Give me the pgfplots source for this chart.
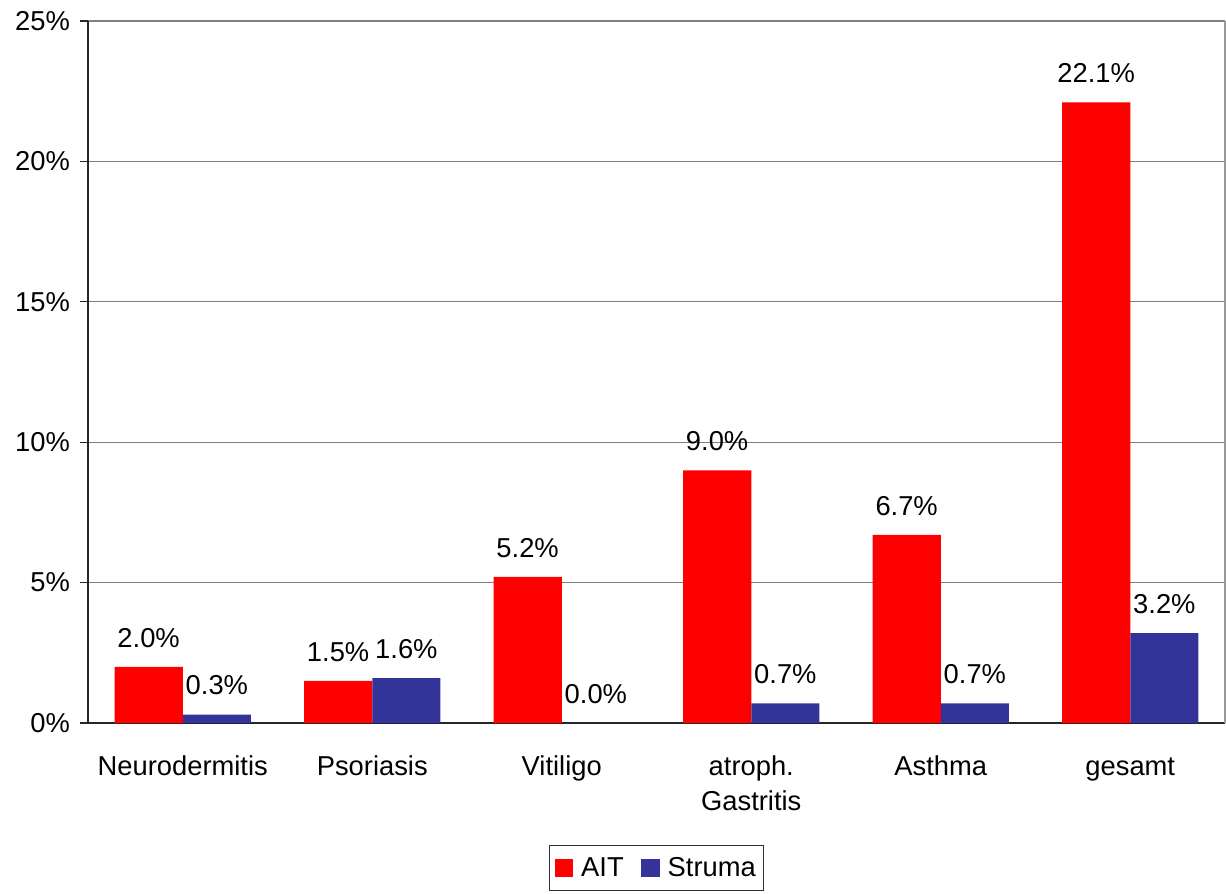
\documentclass[border=0pt]{standalone}
\usepackage{pgfplots}
\pgfplotsset{compat=1.18}
\usepackage{fontspec}
\setmainfont{Liberation Sans}
\definecolor{aitred}{HTML}{FF0000}
\definecolor{strblue}{HTML}{333399}
\begin{document}
\begin{tikzpicture}
\useasboundingbox (-66pt,-127.5pt) rectangle (853.5pt,542.25pt);
\begin{axis}[
  at={(0,0)}, anchor=south west,
  scale only axis,
  width=852.75pt, height=526.5pt,
  font=\fontsize{20.5}{26}\selectfont,
  /pgf/number format/assume math mode=true,
  xmin=-0.5, xmax=5.5,
  ymin=0, ymax=25,
  ybar, bar width=0.36, 
  axis x line*=bottom, axis y line*=left,
  axis line style={black!85, line width=1pt},
  ytick={0,5,10,15,20,25},
  yticklabels={0\%,5\%,10\%,15\%,20\%,25\%},
  ymajorgrids,
  grid style={black!50, line width=1pt},
  tick align=outside,
  major tick length=6pt,
  y tick style={black!85, line width=1pt},
  yticklabel style={xshift=-4pt},
  xtick={0,1,2,3,4,5},
  xticklabels={\strut Neurodermitis,\strut Psoriasis,\strut Vitiligo,{\strut atroph.\\Gastritis},\strut Asthma,\strut gesamt},
  xticklabel style={align=center, yshift=-12pt, font=\fontsize{20.5}{26}\selectfont},
  x tick style={draw=none},
  extra x ticks={-0.5,0.5,1.5,2.5,3.5,4.5,5.5},
  extra x tick labels={},
  extra x tick style={tick style={draw=black!85, line width=1pt}, major tick length=6pt},
  nodes near coords={\pgfmathprintnumber[fixed,fixed zerofill,precision=1]{\pgfplotspointmeta}\%},
  nodes near coords style={black, font=\fontsize{20.5}{24}\selectfont, yshift=11pt},
  legend style={at={(0.5,-0.1738)}, anchor=north, draw=black!80, line width=0.8pt,
     font=\fontsize{20.5}{24}\selectfont, inner xsep=4pt, inner ysep=7pt},
  legend columns=2,
  /tikz/every odd column/.append style={column sep=4pt},
  /tikz/every even column/.append style={column sep=11pt},
  legend image code/.code={\fill[#1] (0pt,-7pt) rectangle (14pt,7pt);},
  after end axis/.code={\draw[black!40, line width=1pt] (rel axis cs:1,0) -- (rel axis cs:1,1);},
]
\addplot[fill=aitred, draw=none, bar shift=-0.18] coordinates {(0,2.0) (1,1.5) (2,5.2) (3,9.0) (4,6.7) (5,22.1)};
\addplot[fill=strblue, draw=none, bar shift=0.18] coordinates {(0,0.3) (1,1.6) (2,0.0) (3,0.7) (4,0.7) (5,3.2)};
\legend{AIT,Struma}
\end{axis}
\end{tikzpicture}
\end{document}
